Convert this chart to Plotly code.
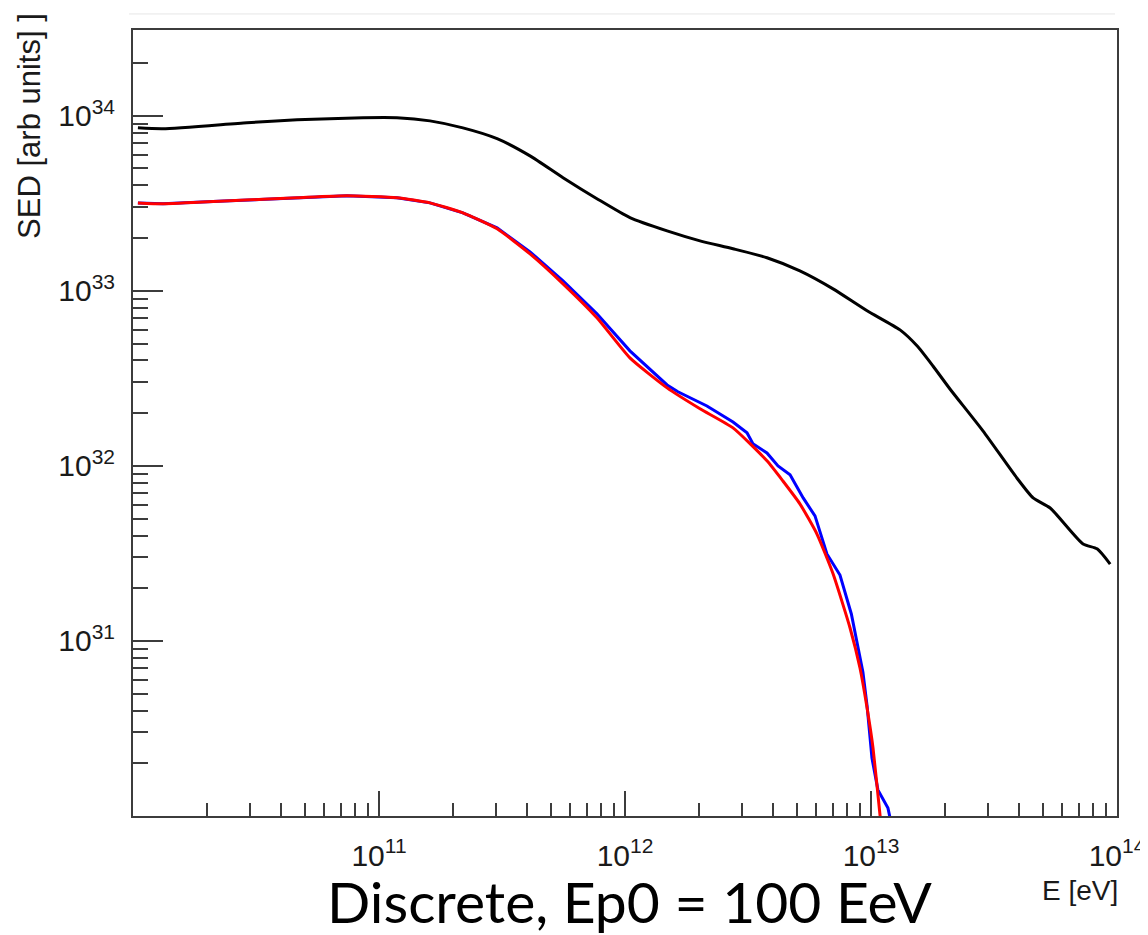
import plotly.graph_objects as go

# ---- data (E in eV, SED in arb units) ----
E_black = [1.047e10, 1.324e10, 2.904e10, 4.645e10, 8.61e10, 1.183e11, 1.611e11, 2.193e11,
           3.020e11, 4.111e11, 5.598e11, 7.69e11, 1.047e12, 1.483e12, 2.018e12, 2.748e12,
           3.776e12, 5.14e12, 7.01e12, 9.64e12, 1.312e13, 1.538e13, 1.786e13,
           2.094e13, 2.851e13, 3.917e13, 4.56e13, 5.35e13, 7.28e13, 8.30e13, 9.38e13]
SED_black = [8.53e33, 8.43e33, 9.12e33, 9.48e33, 9.75e33, 9.75e33, 9.35e33, 8.53e33,
             7.40e33, 5.90e33, 4.43e33, 3.36e33, 2.62e33, 2.20e33, 1.93e33, 1.74e33,
             1.545e33, 1.30e33, 1.026e33, 7.69e32, 5.98e32, 4.85e32, 3.72e32,
             2.75e32, 1.585e32, 8.53e31, 6.56e31, 5.75e31, 3.58e31, 3.36e31, 2.75e31]

E_red = [1.047e10, 1.324e10, 2.477e10, 4.645e10, 7.41e10, 1.183e11, 1.611e11, 2.193e11,
         3.020e11, 4.111e11, 5.598e11, 7.69e11, 1.047e12, 1.483e12, 2.018e12, 2.748e12,
         3.776e12, 4.385e12, 5.14e12, 6.03e12, 7.01e12, 8.22e12, 9.02e12, 9.64e12,
         1.019e13, 1.089e13, 1.109e13]
SED_red = [3.18e33, 3.14e33, 3.27e33, 3.40e33, 3.49e33, 3.40e33, 3.18e33, 2.79e33,
           2.26e33, 1.626e33, 1.096e33, 7.01e32, 4.14e32, 2.79e32, 2.12e32, 1.648e32,
           1.069e32, 8.20e31, 6.07e31, 4.08e31, 2.42e31, 1.186e31, 7.01e30, 4.14e30,
           2.45e30, 1.0e30, 7.9e29]

E_blue = [1.047e10, 1.324e10, 2.477e10, 4.645e10, 7.41e10, 1.183e11, 1.611e11, 2.193e11,
          3.020e11, 4.111e11, 5.598e11, 7.69e11, 1.047e12, 1.483e12, 1.641e12, 2.153e12,
          2.748e12, 3.133e12, 3.311e12, 3.776e12, 4.188e12, 4.688e12, 5.30e12, 5.92e12,
          6.62e12, 7.48e12, 8.32e12, 9.27e12, 9.64e12, 1.009e13, 1.067e13, 1.172e13,
          1.216e13]
SED_blue = [3.18e33, 3.14e33, 3.27e33, 3.40e33, 3.49e33, 3.40e33, 3.18e33, 2.79e33,
            2.29e33, 1.671e33, 1.140e33, 7.40e32, 4.54e32, 2.90e32, 2.65e32, 2.20e32,
            1.782e32, 1.545e32, 1.337e32, 1.186e32, 1.0e32, 8.89e31, 6.56e31, 5.18e31,
            3.14e31, 2.38e31, 1.426e31, 6.65e30, 4.26e30, 2.14e30, 1.41e30, 1.11e30,
            8.7e29]

x_major = [1e11, 1e12, 1e13, 1e14]
x_major_text = ["10<sup>11</sup>", "10<sup>12</sup>", "10<sup>13</sup>", "10<sup>14</sup>"]
y_major = [1e31, 1e32, 1e33, 1e34]
y_major_text = ["10<sup>31</sup>", "10<sup>32</sup>", "10<sup>33</sup>", "10<sup>34</sup>"]

x_decades = [10, 11, 12, 13]
y_decades = [30, 31, 32, 33, 34]
x_minor = [m * 10.0 ** d for d in x_decades for m in range(2, 10)]
y_minor = [m * 10.0 ** d for d in y_decades for m in range(2, 10) if m * 10.0 ** d < 2.5e34]

FONT = "Liberation Sans, Arial, sans-serif"
AXC = "#3c3c3c"
TXT = "#1a1a1a"

fig = go.Figure()
fig.add_trace(go.Scatter(x=E_black, y=SED_black, mode="lines",
                         line=dict(color="black", width=3, shape="spline", smoothing=0.6),
                         showlegend=False, hoverinfo="skip"))
fig.add_trace(go.Scatter(x=E_blue, y=SED_blue, mode="lines",
                         line=dict(color="#0000ff", width=3),
                         showlegend=False, hoverinfo="skip"))
fig.add_trace(go.Scatter(x=E_red, y=SED_red, mode="lines",
                         line=dict(color="#ff0000", width=3, shape="spline", smoothing=0.5),
                         showlegend=False, hoverinfo="skip"))

fig.update_xaxes(type="log", range=[10, 14], showgrid=False, zeroline=False,
                 automargin=False,
                 showline=True, linecolor=AXC, linewidth=2, mirror=True,
                 tickmode="array", tickvals=x_major, ticktext=x_major_text,
                 ticks="inside", ticklen=25, tickwidth=1.5, tickcolor=AXC,
                 ticklabelstandoff=12,
                 tickfont=dict(family=FONT, size=30, color=TXT),
                 minor=dict(tickvals=x_minor, ticks="inside", ticklen=13,
                            tickwidth=1.5, tickcolor=AXC, showgrid=False))
fig.update_yaxes(type="log", range=[30, 34.49], showgrid=False, zeroline=False,
                 automargin=False,
                 showline=True, linecolor=AXC, linewidth=2, mirror=True,
                 tickmode="array", tickvals=y_major, ticktext=y_major_text,
                 ticks="inside", ticklen=30, tickwidth=1.5, tickcolor=AXC,
                 ticklabelstandoff=10,
                 tickfont=dict(family=FONT, size=30, color=TXT),
                 minor=dict(tickvals=y_minor, ticks="inside", ticklen=15,
                            tickwidth=1.5, tickcolor=AXC, showgrid=False))

# the page body adds an 8px margin, so the figure is 8px smaller on each axis
fig.update_layout(
    width=1140, height=927,
    margin=dict(l=125, r=31, t=22, b=119),
    paper_bgcolor="white", plot_bgcolor="white",
    annotations=[
        dict(text="SED [arb units] ]", xref="paper", yref="paper",
             x=0, y=0.878, xshift=-103, textangle=-90, showarrow=False,
             xanchor="center", yanchor="middle",
             font=dict(family=FONT, size=31, color=TXT)),
        dict(text="E [eV]", xref="paper", yref="paper",
             x=1.0, y=-0.0954, xshift=3, xanchor="right", yanchor="middle", showarrow=False,
             font=dict(family=FONT, size=28, color=TXT)),
        dict(text="Discrete, Ep0 = 100 EeV", xref="paper", yref="paper",
             x=0.505, y=-0.1085, xanchor="center", yanchor="middle", showarrow=False,
             font=dict(family="Lato, Carlito, Calibri, sans-serif", size=57, color="black")),
    ],
    shapes=[
        dict(type="line", xref="paper", yref="paper", x0=-0.004, x1=0.998,
             y0=1.0204, y1=1.0204, line=dict(color="#e6e6e6", width=1)),
    ],
)

fig.write_html("out.html")
